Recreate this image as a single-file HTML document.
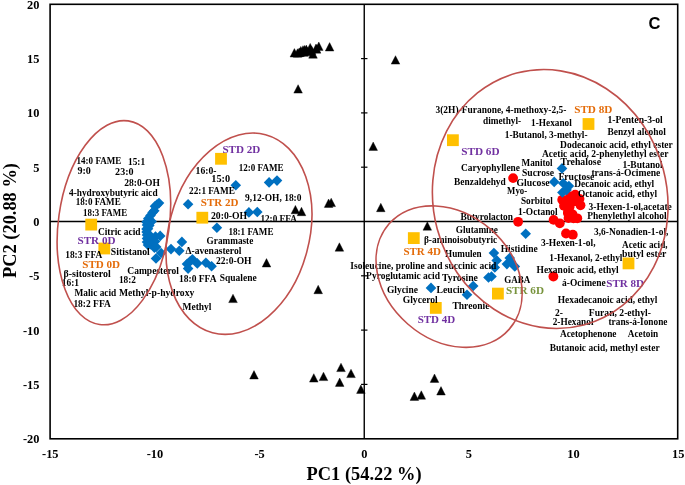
<!DOCTYPE html>
<html><head><meta charset="utf-8"><style>
html,body{margin:0;padding:0;background:#fff;}
body{width:685px;height:485px;overflow:hidden;}
svg{display:block;will-change:transform;}
text{font-family:"Liberation Serif",serif;font-weight:bold;}
</style></head><body>
<svg width="685" height="485" viewBox="0 0 685 485">
<rect x="0" y="0" width="685" height="485" fill="#fff"/>

<line x1="50.1" y1="221.5" x2="677.7" y2="221.5" stroke="#000" stroke-width="1.4"/>
<line x1="364.25" y1="4.3" x2="364.25" y2="438.8" stroke="#000" stroke-width="1.4"/>
<line x1="361.05" y1="384.4" x2="367.45" y2="384.4" stroke="#000" stroke-width="1.2"/>
<line x1="361.05" y1="330.1" x2="367.45" y2="330.1" stroke="#000" stroke-width="1.2"/>
<line x1="361.05" y1="275.8" x2="367.45" y2="275.8" stroke="#000" stroke-width="1.2"/>
<line x1="361.05" y1="167.2" x2="367.45" y2="167.2" stroke="#000" stroke-width="1.2"/>
<line x1="361.05" y1="112.9" x2="367.45" y2="112.9" stroke="#000" stroke-width="1.2"/>
<line x1="361.05" y1="58.6" x2="367.45" y2="58.6" stroke="#000" stroke-width="1.2"/>
<rect x="50.1" y="4.3" width="627.6" height="434.5" fill="none" stroke="#000" stroke-width="1.6"/>
<circle cx="513.1" cy="178.1" r="4.9" fill="#FF0000"/>
<circle cx="518.1" cy="221.8" r="4.9" fill="#FF0000"/>
<circle cx="553.4" cy="276.5" r="4.9" fill="#FF0000"/>
<circle cx="566" cy="233.5" r="4.9" fill="#FF0000"/>
<circle cx="572.8" cy="234.7" r="4.9" fill="#FF0000"/>
<circle cx="553.6" cy="219.9" r="4.9" fill="#FF0000"/>
<circle cx="559.8" cy="223.3" r="4.9" fill="#FF0000"/>
<circle cx="575.2" cy="194.7" r="4.9" fill="#FF0000"/>
<circle cx="570" cy="196.3" r="4.9" fill="#FF0000"/>
<circle cx="579.5" cy="198.8" r="4.9" fill="#FF0000"/>
<circle cx="562.2" cy="199.8" r="4.9" fill="#FF0000"/>
<circle cx="567" cy="201.3" r="4.9" fill="#FF0000"/>
<circle cx="573" cy="201.8" r="4.9" fill="#FF0000"/>
<circle cx="580.5" cy="205.3" r="4.9" fill="#FF0000"/>
<circle cx="564" cy="205.8" r="4.9" fill="#FF0000"/>
<circle cx="569.5" cy="207.3" r="4.9" fill="#FF0000"/>
<circle cx="568" cy="212.3" r="4.9" fill="#FF0000"/>
<circle cx="568" cy="213.3" r="4.9" fill="#FF0000"/>
<circle cx="568.5" cy="218.1" r="4.9" fill="#FF0000"/>
<circle cx="572.5" cy="214.3" r="4.9" fill="#FF0000"/>
<circle cx="573.5" cy="218.3" r="4.9" fill="#FF0000"/>
<circle cx="577.3" cy="218.3" r="4.9" fill="#FF0000"/>
<path d="M159 197.79999999999998L164.3 203.1L159 208.4L153.7 203.1Z" fill="#0070C0"/>
<path d="M157 199.29999999999998L162.3 204.6L157 209.9L151.7 204.6Z" fill="#0070C0"/>
<path d="M155 200.89999999999998L160.3 206.2L155 211.5L149.7 206.2Z" fill="#0070C0"/>
<path d="M154.3 205.5L159.60000000000002 210.8L154.3 216.10000000000002L149.0 210.8Z" fill="#0070C0"/>
<path d="M152.6 207.1L157.9 212.4L152.6 217.70000000000002L147.29999999999998 212.4Z" fill="#0070C0"/>
<path d="M150.5 210.2L155.8 215.5L150.5 220.8L145.2 215.5Z" fill="#0070C0"/>
<path d="M148.3 213.29999999999998L153.60000000000002 218.6L148.3 223.9L143.0 218.6Z" fill="#0070C0"/>
<path d="M151.6 216.1L156.9 221.4L151.6 226.70000000000002L146.29999999999998 221.4Z" fill="#0070C0"/>
<path d="M146.5 216.7L151.8 222L146.5 227.3L141.2 222Z" fill="#0070C0"/>
<path d="M149.3 220.29999999999998L154.60000000000002 225.6L149.3 230.9L144.0 225.6Z" fill="#0070C0"/>
<path d="M147 219.7L152.3 225L147 230.3L141.7 225Z" fill="#0070C0"/>
<path d="M148 223.5L153.3 228.8L148 234.10000000000002L142.7 228.8Z" fill="#0070C0"/>
<path d="M146.5 223.7L151.8 229L146.5 234.3L141.2 229Z" fill="#0070C0"/>
<path d="M146.6 226.7L151.9 232L146.6 237.3L141.29999999999998 232Z" fill="#0070C0"/>
<path d="M147 229.7L152.3 235L147 240.3L141.7 235Z" fill="#0070C0"/>
<path d="M147 233.2L152.3 238.5L147 243.8L141.7 238.5Z" fill="#0070C0"/>
<path d="M147 236.7L152.3 242L147 247.3L141.7 242Z" fill="#0070C0"/>
<path d="M148 239.7L153.3 245L148 250.3L142.7 245Z" fill="#0070C0"/>
<path d="M160.2 230.6L165.5 235.9L160.2 241.20000000000002L154.89999999999998 235.9Z" fill="#0070C0"/>
<path d="M155.5 231.2L160.8 236.5L155.5 241.8L150.2 236.5Z" fill="#0070C0"/>
<path d="M151.5 231.7L156.8 237L151.5 242.3L146.2 237Z" fill="#0070C0"/>
<path d="M152 235.7L157.3 241L152 246.3L146.7 241Z" fill="#0070C0"/>
<path d="M155 236.2L160.3 241.5L155 246.8L149.7 241.5Z" fill="#0070C0"/>
<path d="M151 239.2L156.3 244.5L151 249.8L145.7 244.5Z" fill="#0070C0"/>
<path d="M154.4 242.29999999999998L159.70000000000002 247.6L154.4 252.9L149.1 247.6Z" fill="#0070C0"/>
<path d="M156.2 241.7L161.5 247L156.2 252.3L150.89999999999998 247Z" fill="#0070C0"/>
<path d="M161.1 247.7L166.4 253L161.1 258.3L155.79999999999998 253Z" fill="#0070C0"/>
<path d="M156 253.2L161.3 258.5L156 263.8L150.7 258.5Z" fill="#0070C0"/>
<path d="M171 243.79999999999998L176.3 249.1L171 254.4L165.7 249.1Z" fill="#0070C0"/>
<path d="M179.3 245.5L184.60000000000002 250.8L179.3 256.1L174.0 250.8Z" fill="#0070C0"/>
<path d="M181.9 236.6L187.20000000000002 241.9L181.9 247.20000000000002L176.6 241.9Z" fill="#0070C0"/>
<path d="M192.4 254.0L197.70000000000002 259.3L192.4 264.6L187.1 259.3Z" fill="#0070C0"/>
<path d="M187 258.7L192.3 264L187 269.3L181.7 264Z" fill="#0070C0"/>
<path d="M188.1 263.3L193.4 268.6L188.1 273.90000000000003L182.79999999999998 268.6Z" fill="#0070C0"/>
<path d="M197.3 258.09999999999997L202.60000000000002 263.4L197.3 268.7L192.0 263.4Z" fill="#0070C0"/>
<path d="M205.9 257.4L211.20000000000002 262.7L205.9 268.0L200.6 262.7Z" fill="#0070C0"/>
<path d="M211.6 261.0L216.9 266.3L211.6 271.6L206.29999999999998 266.3Z" fill="#0070C0"/>
<path d="M190 256.2L195.3 261.5L190 266.8L184.7 261.5Z" fill="#0070C0"/>
<path d="M216.9 222.5L222.20000000000002 227.8L216.9 233.10000000000002L211.6 227.8Z" fill="#0070C0"/>
<path d="M188.1 199.0L193.4 204.3L188.1 209.60000000000002L182.79999999999998 204.3Z" fill="#0070C0"/>
<path d="M235.8 179.89999999999998L241.10000000000002 185.2L235.8 190.5L230.5 185.2Z" fill="#0070C0"/>
<path d="M269.1 177.1L274.40000000000003 182.4L269.1 187.70000000000002L263.8 182.4Z" fill="#0070C0"/>
<path d="M277 175.29999999999998L282.3 180.6L277 185.9L271.7 180.6Z" fill="#0070C0"/>
<path d="M248.9 207.1L254.20000000000002 212.4L248.9 217.70000000000002L243.6 212.4Z" fill="#0070C0"/>
<path d="M257.3 206.7L262.6 212L257.3 217.3L252.0 212Z" fill="#0070C0"/>
<path d="M431 282.59999999999997L436.3 287.9L431 293.2L425.7 287.9Z" fill="#0070C0"/>
<path d="M473.2 280.7L478.5 286L473.2 291.3L467.9 286Z" fill="#0070C0"/>
<path d="M467 289.5L472.3 294.8L467 300.1L461.7 294.8Z" fill="#0070C0"/>
<path d="M493.9 247.7L499.2 253L493.9 258.3L488.59999999999997 253Z" fill="#0070C0"/>
<path d="M496.7 255.09999999999997L502.0 260.4L496.7 265.7L491.4 260.4Z" fill="#0070C0"/>
<path d="M494.8 262.09999999999997L500.1 267.4L494.8 272.7L489.5 267.4Z" fill="#0070C0"/>
<path d="M488.5 272.2L493.8 277.5L488.5 282.8L483.2 277.5Z" fill="#0070C0"/>
<path d="M491.5 271.2L496.8 276.5L491.5 281.8L486.2 276.5Z" fill="#0070C0"/>
<path d="M509.7 252.7L515.0 258L509.7 263.3L504.4 258Z" fill="#0070C0"/>
<path d="M506.9 258.8L512.1999999999999 264.1L506.9 269.40000000000003L501.59999999999997 264.1Z" fill="#0070C0"/>
<path d="M514.8 261.09999999999997L520.0999999999999 266.4L514.8 271.7L509.49999999999994 266.4Z" fill="#0070C0"/>
<path d="M511 256.7L516.3 262L511 267.3L505.7 262Z" fill="#0070C0"/>
<path d="M525.7 228.5L531.0 233.8L525.7 239.10000000000002L520.4000000000001 233.8Z" fill="#0070C0"/>
<path d="M562 163.1L567.3 168.4L562 173.70000000000002L556.7 168.4Z" fill="#0070C0"/>
<path d="M554.2 176.6L559.5 181.9L554.2 187.20000000000002L548.9000000000001 181.9Z" fill="#0070C0"/>
<path d="M563.3 177.89999999999998L568.5999999999999 183.2L563.3 188.5L558.0 183.2Z" fill="#0070C0"/>
<path d="M568.9 180.7L574.1999999999999 186L568.9 191.3L563.6 186Z" fill="#0070C0"/>
<path d="M562.4 187.2L567.6999999999999 192.5L562.4 197.8L557.1 192.5Z" fill="#0070C0"/>
<path d="M566.6 184.6L571.9 189.9L566.6 195.20000000000002L561.3000000000001 189.9Z" fill="#0070C0"/>
<path d="M294.4 48.6L298.7 57.0L290.1 57.0Z" fill="#000" stroke="#000" stroke-width="0.4" stroke-linejoin="round"/>
<path d="M297.5 48.8L301.8 57.2L293.2 57.2Z" fill="#000" stroke="#000" stroke-width="0.4" stroke-linejoin="round"/>
<path d="M299 48.3L303.3 56.7L294.7 56.7Z" fill="#000" stroke="#000" stroke-width="0.4" stroke-linejoin="round"/>
<path d="M300.8 46.4L305.1 54.8L296.5 54.8Z" fill="#000" stroke="#000" stroke-width="0.4" stroke-linejoin="round"/>
<path d="M303 45.7L307.3 54.1L298.7 54.1Z" fill="#000" stroke="#000" stroke-width="0.4" stroke-linejoin="round"/>
<path d="M304.6 45.4L308.9 53.8L300.3 53.8Z" fill="#000" stroke="#000" stroke-width="0.4" stroke-linejoin="round"/>
<path d="M306.3 45.1L310.6 53.5L302.0 53.5Z" fill="#000" stroke="#000" stroke-width="0.4" stroke-linejoin="round"/>
<path d="M310.2 43.4L314.5 51.8L305.9 51.8Z" fill="#000" stroke="#000" stroke-width="0.4" stroke-linejoin="round"/>
<path d="M313 49.8L317.3 58.2L308.7 58.2Z" fill="#000" stroke="#000" stroke-width="0.4" stroke-linejoin="round"/>
<path d="M316 44.0L320.3 52.4L311.7 52.4Z" fill="#000" stroke="#000" stroke-width="0.4" stroke-linejoin="round"/>
<path d="M318.8 42.0L323.1 50.4L314.5 50.4Z" fill="#000" stroke="#000" stroke-width="0.4" stroke-linejoin="round"/>
<path d="M329.6 42.6L333.9 51.0L325.3 51.0Z" fill="#000" stroke="#000" stroke-width="0.4" stroke-linejoin="round"/>
<path d="M300 48.1L304.3 56.5L295.7 56.5Z" fill="#000" stroke="#000" stroke-width="0.4" stroke-linejoin="round"/>
<path d="M304 47.8L308.3 56.2L299.7 56.2Z" fill="#000" stroke="#000" stroke-width="0.4" stroke-linejoin="round"/>
<path d="M307.5 47.4L311.8 55.8L303.2 55.8Z" fill="#000" stroke="#000" stroke-width="0.4" stroke-linejoin="round"/>
<path d="M311.5 46.0L315.8 54.4L307.2 54.4Z" fill="#000" stroke="#000" stroke-width="0.4" stroke-linejoin="round"/>
<path d="M316.5 44.8L320.8 53.2L312.2 53.2Z" fill="#000" stroke="#000" stroke-width="0.4" stroke-linejoin="round"/>
<path d="M298.1 84.7L302.4 93.1L293.8 93.1Z" fill="#000" stroke="#000" stroke-width="0.4" stroke-linejoin="round"/>
<path d="M395.5 55.7L399.8 64.1L391.2 64.1Z" fill="#000" stroke="#000" stroke-width="0.4" stroke-linejoin="round"/>
<path d="M373.2 142.0L377.5 150.4L368.9 150.4Z" fill="#000" stroke="#000" stroke-width="0.4" stroke-linejoin="round"/>
<path d="M328.6 199.0L332.9 207.4L324.3 207.4Z" fill="#000" stroke="#000" stroke-width="0.4" stroke-linejoin="round"/>
<path d="M331.2 198.2L335.5 206.6L326.9 206.6Z" fill="#000" stroke="#000" stroke-width="0.4" stroke-linejoin="round"/>
<path d="M380.8 203.3L385.1 211.7L376.5 211.7Z" fill="#000" stroke="#000" stroke-width="0.4" stroke-linejoin="round"/>
<path d="M427.3 221.8L431.6 230.2L423.0 230.2Z" fill="#000" stroke="#000" stroke-width="0.4" stroke-linejoin="round"/>
<path d="M295.4 205.4L299.7 213.8L291.1 213.8Z" fill="#000" stroke="#000" stroke-width="0.4" stroke-linejoin="round"/>
<path d="M301.5 207.3L305.8 215.7L297.2 215.7Z" fill="#000" stroke="#000" stroke-width="0.4" stroke-linejoin="round"/>
<path d="M339.4 242.8L343.7 251.2L335.1 251.2Z" fill="#000" stroke="#000" stroke-width="0.4" stroke-linejoin="round"/>
<path d="M318.2 285.3L322.5 293.7L313.9 293.7Z" fill="#000" stroke="#000" stroke-width="0.4" stroke-linejoin="round"/>
<path d="M266.5 258.6L270.8 267.0L262.2 267.0Z" fill="#000" stroke="#000" stroke-width="0.4" stroke-linejoin="round"/>
<path d="M233 294.2L237.3 302.6L228.7 302.6Z" fill="#000" stroke="#000" stroke-width="0.4" stroke-linejoin="round"/>
<path d="M254 370.6L258.3 379.0L249.7 379.0Z" fill="#000" stroke="#000" stroke-width="0.4" stroke-linejoin="round"/>
<path d="M313.8 373.7L318.1 382.1L309.5 382.1Z" fill="#000" stroke="#000" stroke-width="0.4" stroke-linejoin="round"/>
<path d="M323.5 372.2L327.8 380.6L319.2 380.6Z" fill="#000" stroke="#000" stroke-width="0.4" stroke-linejoin="round"/>
<path d="M341 363.2L345.3 371.6L336.7 371.6Z" fill="#000" stroke="#000" stroke-width="0.4" stroke-linejoin="round"/>
<path d="M351 369.2L355.3 377.6L346.7 377.6Z" fill="#000" stroke="#000" stroke-width="0.4" stroke-linejoin="round"/>
<path d="M339.7 378.0L344.0 386.4L335.4 386.4Z" fill="#000" stroke="#000" stroke-width="0.4" stroke-linejoin="round"/>
<path d="M360.9 385.0L365.2 393.4L356.6 393.4Z" fill="#000" stroke="#000" stroke-width="0.4" stroke-linejoin="round"/>
<path d="M434.5 374.0L438.8 382.4L430.2 382.4Z" fill="#000" stroke="#000" stroke-width="0.4" stroke-linejoin="round"/>
<path d="M441 386.6L445.3 395.0L436.7 395.0Z" fill="#000" stroke="#000" stroke-width="0.4" stroke-linejoin="round"/>
<path d="M414.4 392.0L418.7 400.4L410.1 400.4Z" fill="#000" stroke="#000" stroke-width="0.4" stroke-linejoin="round"/>
<path d="M421.3 390.8L425.6 399.2L417.0 399.2Z" fill="#000" stroke="#000" stroke-width="0.4" stroke-linejoin="round"/>
<rect x="85.3" y="218.7" width="11.8" height="11.8" fill="#FFC000"/>
<rect x="98.4" y="242.6" width="11.8" height="11.8" fill="#FFC000"/>
<rect x="215.1" y="152.9" width="11.8" height="11.8" fill="#FFC000"/>
<rect x="196.4" y="211.8" width="11.8" height="11.8" fill="#FFC000"/>
<rect x="407.9" y="232.2" width="11.8" height="11.8" fill="#FFC000"/>
<rect x="429.9" y="302.0" width="11.8" height="11.8" fill="#FFC000"/>
<rect x="492.0" y="287.7" width="11.8" height="11.8" fill="#FFC000"/>
<rect x="447.0" y="134.3" width="11.8" height="11.8" fill="#FFC000"/>
<rect x="582.6" y="118.1" width="11.8" height="11.8" fill="#FFC000"/>
<rect x="622.6" y="257.5" width="11.8" height="11.8" fill="#FFC000"/>
<text x="76.6" y="163.7" font-size="9.4" fill="#000" textLength="44.7" lengthAdjust="spacingAndGlyphs">14:0 FAME</text>
<text x="128.0" y="164.6" font-size="9.4" fill="#000" textLength="17.1" lengthAdjust="spacingAndGlyphs">15:1</text>
<text x="77.4" y="174.3" font-size="9.4" fill="#000" textLength="13.4" lengthAdjust="spacingAndGlyphs">9:0</text>
<text x="115.1" y="175.4" font-size="9.4" fill="#000" textLength="18.5" lengthAdjust="spacingAndGlyphs">23:0</text>
<text x="124.3" y="185.8" font-size="9.4" fill="#000" textLength="35.6" lengthAdjust="spacingAndGlyphs">28:0-OH</text>
<text x="69.0" y="196.3" font-size="9.4" fill="#000" textLength="88.6" lengthAdjust="spacingAndGlyphs">4-hydroxybutyric aicd</text>
<text x="75.8" y="205.1" font-size="9.4" fill="#000" textLength="44.9" lengthAdjust="spacingAndGlyphs">18:0 FAME</text>
<text x="83.0" y="215.5" font-size="9.4" fill="#000" textLength="44.1" lengthAdjust="spacingAndGlyphs">18:3 FAME</text>
<text x="97.9" y="234.5" font-size="9.4" fill="#000" textLength="42.7" lengthAdjust="spacingAndGlyphs">Citric acid</text>
<text x="77.5" y="244.1" font-size="11.0" fill="#7030A0" textLength="38.0" lengthAdjust="spacingAndGlyphs">STR 0D</text>
<text x="65.2" y="257.9" font-size="9.4" fill="#000" textLength="37.1" lengthAdjust="spacingAndGlyphs">18:3 FFA</text>
<text x="110.8" y="254.9" font-size="9.4" fill="#000" textLength="39.0" lengthAdjust="spacingAndGlyphs">Sitistanol</text>
<text x="82.3" y="267.7" font-size="11.0" fill="#E46C0A" textLength="37.8" lengthAdjust="spacingAndGlyphs">STD 0D</text>
<text x="63.5" y="277.3" font-size="9.4" fill="#000" textLength="47.3" lengthAdjust="spacingAndGlyphs">β-sitosterol</text>
<text x="61.7" y="286.1" font-size="9.4" fill="#000" textLength="17.4" lengthAdjust="spacingAndGlyphs">16:1</text>
<text x="74.4" y="295.6" font-size="9.4" fill="#000" textLength="41.9" lengthAdjust="spacingAndGlyphs">Malic acid</text>
<text x="73.4" y="306.5" font-size="9.4" fill="#000" textLength="37.4" lengthAdjust="spacingAndGlyphs">18:2 FFA</text>
<text x="127.3" y="274.0" font-size="9.4" fill="#000" textLength="51.6" lengthAdjust="spacingAndGlyphs">Campesterol</text>
<text x="118.9" y="282.9" font-size="9.4" fill="#000" textLength="17.1" lengthAdjust="spacingAndGlyphs">18:2</text>
<text x="118.9" y="295.6" font-size="9.4" fill="#000" textLength="75.4" lengthAdjust="spacingAndGlyphs">Methyl-p-hydroxy</text>
<text x="222.4" y="153.1" font-size="11.0" fill="#7030A0" textLength="37.9" lengthAdjust="spacingAndGlyphs">STD 2D</text>
<text x="238.7" y="170.8" font-size="9.4" fill="#000" textLength="44.8" lengthAdjust="spacingAndGlyphs">12:0 FAME</text>
<text x="195.6" y="174.3" font-size="9.4" fill="#000" textLength="20.9" lengthAdjust="spacingAndGlyphs">16:0-</text>
<text x="211.3" y="181.8" font-size="9.4" fill="#000" textLength="18.9" lengthAdjust="spacingAndGlyphs">15:0</text>
<text x="189.1" y="194.4" font-size="9.4" fill="#000" textLength="45.8" lengthAdjust="spacingAndGlyphs">22:1 FAME</text>
<text x="200.8" y="205.7" font-size="11.0" fill="#E46C0A" textLength="37.6" lengthAdjust="spacingAndGlyphs">STR 2D</text>
<text x="245.1" y="201.1" font-size="9.4" fill="#000" textLength="56.4" lengthAdjust="spacingAndGlyphs">9,12-OH, 18:0</text>
<text x="211.0" y="219.1" font-size="9.4" fill="#000" textLength="36.2" lengthAdjust="spacingAndGlyphs">20:0-OH</text>
<text x="260.4" y="221.7" font-size="9.4" fill="#000" textLength="36.4" lengthAdjust="spacingAndGlyphs">12:0 FFA</text>
<text x="228.5" y="234.9" font-size="9.4" fill="#000" textLength="45.0" lengthAdjust="spacingAndGlyphs">18:1 FAME</text>
<text x="206.6" y="243.6" font-size="9.4" fill="#000" textLength="46.7" lengthAdjust="spacingAndGlyphs">Grammaste</text>
<text x="185.6" y="253.8" font-size="9.4" fill="#000" textLength="55.8" lengthAdjust="spacingAndGlyphs">Δ-avenasterol</text>
<text x="215.9" y="263.8" font-size="9.4" fill="#000" textLength="35.7" lengthAdjust="spacingAndGlyphs">22:0-OH</text>
<text x="179.0" y="281.7" font-size="9.4" fill="#000" textLength="37.5" lengthAdjust="spacingAndGlyphs">18:0 FFA</text>
<text x="219.7" y="280.5" font-size="9.4" fill="#000" textLength="37.0" lengthAdjust="spacingAndGlyphs">Squalene</text>
<text x="182.5" y="310.3" font-size="9.4" fill="#000" textLength="29.0" lengthAdjust="spacingAndGlyphs">Methyl</text>
<text x="460.4" y="220.3" font-size="9.4" fill="#000" textLength="52.6" lengthAdjust="spacingAndGlyphs">Butyrolacton</text>
<text x="455.7" y="232.9" font-size="9.4" fill="#000" textLength="42.3" lengthAdjust="spacingAndGlyphs">Glutamine</text>
<text x="423.9" y="243.0" font-size="9.4" fill="#000" textLength="73.4" lengthAdjust="spacingAndGlyphs">β-aminoisobutyric</text>
<text x="403.4" y="255.2" font-size="11.0" fill="#E46C0A" textLength="37.5" lengthAdjust="spacingAndGlyphs">STR 4D</text>
<text x="445.1" y="256.6" font-size="9.4" fill="#000" textLength="36.6" lengthAdjust="spacingAndGlyphs">Humulen</text>
<text x="500.7" y="251.7" font-size="9.4" fill="#000" textLength="37.0" lengthAdjust="spacingAndGlyphs">Histidine</text>
<text x="350.3" y="269.4" font-size="9.4" fill="#000" textLength="146.1" lengthAdjust="spacingAndGlyphs">Isoleucine, proline and succinic acid</text>
<text x="366.1" y="279.4" font-size="9.4" fill="#000" textLength="73.9" lengthAdjust="spacingAndGlyphs">Pyroglutamic acid</text>
<text x="442.0" y="281.1" font-size="9.4" fill="#000" textLength="35.9" lengthAdjust="spacingAndGlyphs">Tyrosine</text>
<text x="504.3" y="282.6" font-size="9.4" fill="#000" textLength="26.1" lengthAdjust="spacingAndGlyphs">GABA</text>
<text x="386.9" y="292.6" font-size="9.4" fill="#000" textLength="31.1" lengthAdjust="spacingAndGlyphs">Glycine</text>
<text x="436.5" y="292.8" font-size="9.4" fill="#000" textLength="28.5" lengthAdjust="spacingAndGlyphs">Leucin</text>
<text x="505.9" y="294.1" font-size="11.0" fill="#77933C" textLength="38.1" lengthAdjust="spacingAndGlyphs">STR 6D</text>
<text x="402.7" y="303.1" font-size="9.4" fill="#000" textLength="35.1" lengthAdjust="spacingAndGlyphs">Glycerol</text>
<text x="452.4" y="308.6" font-size="9.4" fill="#000" textLength="37.1" lengthAdjust="spacingAndGlyphs">Threonie</text>
<text x="417.7" y="322.9" font-size="11.0" fill="#7030A0" textLength="37.5" lengthAdjust="spacingAndGlyphs">STD 4D</text>
<text x="435.5" y="113.4" font-size="9.4" fill="#000" textLength="130.9" lengthAdjust="spacingAndGlyphs">3(2H)-Furanone, 4-methoxy-2,5-</text>
<text x="574.2" y="113.2" font-size="11.0" fill="#E46C0A" textLength="38.2" lengthAdjust="spacingAndGlyphs">STD 8D</text>
<text x="607.5" y="122.6" font-size="9.4" fill="#000" textLength="55.3" lengthAdjust="spacingAndGlyphs">1-Penten-3-ol</text>
<text x="483.0" y="123.9" font-size="9.4" fill="#000" textLength="38.2" lengthAdjust="spacingAndGlyphs">dimethyl-</text>
<text x="531.1" y="126.4" font-size="9.4" fill="#000" textLength="40.7" lengthAdjust="spacingAndGlyphs">1-Hexanol</text>
<text x="607.5" y="134.7" font-size="9.4" fill="#000" textLength="58.4" lengthAdjust="spacingAndGlyphs">Benzyl alcohol</text>
<text x="504.8" y="137.6" font-size="9.4" fill="#000" textLength="82.8" lengthAdjust="spacingAndGlyphs">1-Butanol, 3-methyl-</text>
<text x="461.2" y="155.1" font-size="11.0" fill="#7030A0" textLength="38.4" lengthAdjust="spacingAndGlyphs">STD 6D</text>
<text x="560.1" y="147.7" font-size="9.4" fill="#000" textLength="112.7" lengthAdjust="spacingAndGlyphs">Dodecanoic acid, ethyl ester</text>
<text x="542.0" y="156.8" font-size="9.4" fill="#000" textLength="126.5" lengthAdjust="spacingAndGlyphs">Acetic acid, 2-phenylethyl ester</text>
<text x="521.6" y="166.1" font-size="9.4" fill="#000" textLength="31.0" lengthAdjust="spacingAndGlyphs">Manitol</text>
<text x="560.6" y="165.1" font-size="9.4" fill="#000" textLength="40.4" lengthAdjust="spacingAndGlyphs">Trehalose</text>
<text x="622.4" y="167.6" font-size="9.4" fill="#000" textLength="40.2" lengthAdjust="spacingAndGlyphs">1-Butanol</text>
<text x="461.1" y="171.3" font-size="9.4" fill="#000" textLength="58.9" lengthAdjust="spacingAndGlyphs">Caryophyllene</text>
<text x="522.0" y="175.7" font-size="9.4" fill="#000" textLength="32.0" lengthAdjust="spacingAndGlyphs">Sucrose</text>
<text x="591.4" y="175.5" font-size="9.4" fill="#000" textLength="68.9" lengthAdjust="spacingAndGlyphs">trans-á-Ocimene</text>
<text x="558.4" y="179.9" font-size="9.4" fill="#000" textLength="35.9" lengthAdjust="spacingAndGlyphs">Fructose</text>
<text x="454.1" y="184.5" font-size="9.4" fill="#000" textLength="51.7" lengthAdjust="spacingAndGlyphs">Benzaldehyd</text>
<text x="516.5" y="185.6" font-size="9.4" fill="#000" textLength="33.1" lengthAdjust="spacingAndGlyphs">Glucose</text>
<text x="574.2" y="186.6" font-size="9.4" fill="#000" textLength="80.0" lengthAdjust="spacingAndGlyphs">Decanoic acid, ethyl</text>
<text x="507.1" y="194.3" font-size="9.4" fill="#000" textLength="20.0" lengthAdjust="spacingAndGlyphs">Myo-</text>
<text x="577.9" y="197.4" font-size="9.4" fill="#000" textLength="79.1" lengthAdjust="spacingAndGlyphs">Octanoic acid, ethyl</text>
<text x="520.9" y="203.5" font-size="9.4" fill="#000" textLength="32.0" lengthAdjust="spacingAndGlyphs">Sorbitol</text>
<text x="588.5" y="209.8" font-size="9.4" fill="#000" textLength="83.3" lengthAdjust="spacingAndGlyphs">3-Hexen-1-ol,acetate</text>
<text x="518.0" y="214.5" font-size="9.4" fill="#000" textLength="39.7" lengthAdjust="spacingAndGlyphs">1-Octanol</text>
<text x="587.2" y="219.1" font-size="9.4" fill="#000" textLength="79.4" lengthAdjust="spacingAndGlyphs">Phenylethyl alcohol</text>
<text x="594.0" y="235.3" font-size="9.4" fill="#000" textLength="74.4" lengthAdjust="spacingAndGlyphs">3,6-Nonadien-1-ol,</text>
<text x="540.9" y="245.5" font-size="9.4" fill="#000" textLength="54.7" lengthAdjust="spacingAndGlyphs">3-Hexen-1-ol,</text>
<text x="622.1" y="248.1" font-size="9.4" fill="#000" textLength="45.5" lengthAdjust="spacingAndGlyphs">Acetic acid,</text>
<text x="549.3" y="260.8" font-size="9.4" fill="#000" textLength="73.1" lengthAdjust="spacingAndGlyphs">1-Hexanol, 2-ethyl</text>
<text x="622.1" y="257.2" font-size="9.4" fill="#000" textLength="44.3" lengthAdjust="spacingAndGlyphs">butyl ester</text>
<text x="536.5" y="273.1" font-size="9.4" fill="#000" textLength="82.1" lengthAdjust="spacingAndGlyphs">Hexanoic acid, ethyl</text>
<text x="562.1" y="286.4" font-size="9.4" fill="#000" textLength="43.7" lengthAdjust="spacingAndGlyphs">á-Ocimene</text>
<text x="606.3" y="286.5" font-size="11.0" fill="#7030A0" textLength="37.8" lengthAdjust="spacingAndGlyphs">STR 8D</text>
<text x="557.7" y="302.6" font-size="9.4" fill="#000" textLength="99.7" lengthAdjust="spacingAndGlyphs">Hexadecanoic acid, ethyl</text>
<text x="554.9" y="315.7" font-size="9.4" fill="#000" textLength="7.9" lengthAdjust="spacingAndGlyphs">2-</text>
<text x="588.8" y="316.2" font-size="9.4" fill="#000" textLength="62.1" lengthAdjust="spacingAndGlyphs">Furan, 2-ethyl-</text>
<text x="552.7" y="324.5" font-size="9.4" fill="#000" textLength="40.8" lengthAdjust="spacingAndGlyphs">2-Hexanol</text>
<text x="608.5" y="324.5" font-size="9.4" fill="#000" textLength="59.0" lengthAdjust="spacingAndGlyphs">trans-á-Ionone</text>
<text x="559.9" y="337.0" font-size="9.4" fill="#000" textLength="56.6" lengthAdjust="spacingAndGlyphs">Acetophenone</text>
<text x="627.8" y="337.0" font-size="9.4" fill="#000" textLength="30.3" lengthAdjust="spacingAndGlyphs">Acetoin</text>
<text x="549.8" y="350.8" font-size="9.4" fill="#000" textLength="109.8" lengthAdjust="spacingAndGlyphs">Butanoic acid, methyl ester</text>
<ellipse cx="550.2" cy="199.0" rx="116.9" ry="130.3" transform="rotate(-14.9 550.2 199.0)" fill="none" stroke="#C0504D" stroke-width="1.6"/>
<ellipse cx="449.1" cy="276.6" rx="79.9" ry="62.9" transform="rotate(41.1 449.1 276.6)" fill="none" stroke="#C0504D" stroke-width="1.6"/>
<ellipse cx="113.9" cy="222.7" rx="55.4" ry="102.8" transform="rotate(8.0 113.9 222.7)" fill="none" stroke="#C0504D" stroke-width="1.6"/>
<ellipse cx="239.0" cy="233.7" rx="70.2" ry="102.5" transform="rotate(15.0 239.0 233.7)" fill="none" stroke="#C0504D" stroke-width="1.6"/>
<text transform="translate(39.4 8.65) scale(1 1.08)" font-size="12.4" text-anchor="end" fill="#000">20</text>
<text transform="translate(39.4 62.96) scale(1 1.08)" font-size="12.4" text-anchor="end" fill="#000">15</text>
<text transform="translate(39.4 117.28) scale(1 1.08)" font-size="12.4" text-anchor="end" fill="#000">10</text>
<text transform="translate(39.4 171.59) scale(1 1.08)" font-size="12.4" text-anchor="end" fill="#000">5</text>
<text transform="translate(39.4 225.90) scale(1 1.08)" font-size="12.4" text-anchor="end" fill="#000">0</text>
<text transform="translate(39.4 280.21) scale(1 1.08)" font-size="12.4" text-anchor="end" fill="#000">-5</text>
<text transform="translate(39.4 334.52) scale(1 1.08)" font-size="12.4" text-anchor="end" fill="#000">-10</text>
<text transform="translate(39.4 388.84) scale(1 1.08)" font-size="12.4" text-anchor="end" fill="#000">-15</text>
<text transform="translate(39.4 443.15) scale(1 1.08)" font-size="12.4" text-anchor="end" fill="#000">-20</text>
<text transform="translate(50.30 457.9) scale(1 1.08)" font-size="12.4" text-anchor="middle" fill="#000">-15</text>
<text transform="translate(154.95 457.9) scale(1 1.08)" font-size="12.4" text-anchor="middle" fill="#000">-10</text>
<text transform="translate(259.60 457.9) scale(1 1.08)" font-size="12.4" text-anchor="middle" fill="#000">-5</text>
<text transform="translate(364.25 457.9) scale(1 1.08)" font-size="12.4" text-anchor="middle" fill="#000">0</text>
<text transform="translate(468.90 457.9) scale(1 1.08)" font-size="12.4" text-anchor="middle" fill="#000">5</text>
<text transform="translate(573.55 457.9) scale(1 1.08)" font-size="12.4" text-anchor="middle" fill="#000">10</text>
<text transform="translate(678.20 457.9) scale(1 1.08)" font-size="12.4" text-anchor="middle" fill="#000">15</text>
<text x="306.6" y="479.9" font-size="18.4" fill="#000">PC1 (54.22 %)</text>
<text transform="translate(15.8,278) rotate(-90)" x="0" y="0" font-size="18.4" fill="#000">PC2 (20.88 %)</text>
<text x="648.5" y="29" font-size="16.5" fill="#000" style="font-family:'Liberation Sans',sans-serif;font-weight:bold">C</text>
</svg></body></html>
